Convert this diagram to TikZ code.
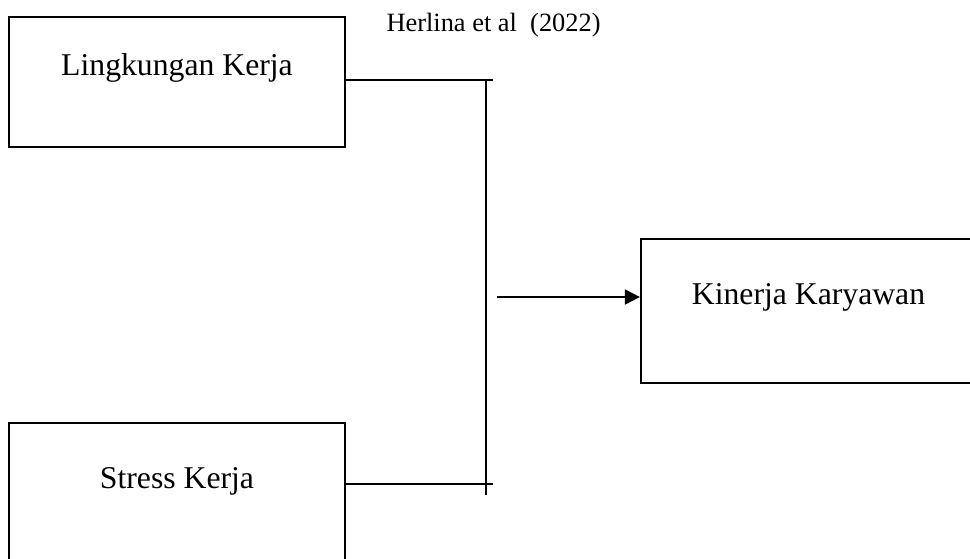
\documentclass[tikz,border=0pt]{standalone}
\usepackage{fontspec}
\setmainfont{Liberation Serif}
\usetikzlibrary{arrows.meta}

\begin{document}
\begin{tikzpicture}[x=1pt,y=-1pt,>={Triangle[length=15pt,width=15pt]},
  box/.style={draw,line width=2.2pt,inner sep=0pt},
  conn/.style={line width=1.3pt},
  every node/.style={font=\fontsize{31.7}{38}\selectfont}]
  \clip (0,0) rectangle (970,559);
  % boxes
  \node[box,minimum width=336,minimum height=130] (lk) at (177,82) {};
  \node[anchor=base] (lktext) at (177,76) {Lingkungan Kerja};
  \node[box,minimum width=336,minimum height=140] (sk) at (177,493) {};
  \node[anchor=base] (sktext) at (177,488) {Stress Kerja};
  \node[box,minimum width=359,minimum height=144] (kk) at (820.5,311) {};
  \node[anchor=base] (kktext) at (808.5,304) {Kinerja Karyawan};
  \node[anchor=base west,font=\fontsize{26.4}{32}\selectfont] (src) at (383,32) {Herlina et al~~(2022)};
  % connectors
  \coordinate (jtop) at (486,80);
  \coordinate (jbot) at (486,484);
  \coordinate (astart) at (497,297);
  \draw[conn] (lk.east |- jtop) -- ([xshift=7pt]jtop);
  \draw[conn] (sk.east |- jbot) -- ([xshift=7pt]jbot);
  \draw[conn] (jtop) -- ([yshift=-11pt]jbot);
  \draw[line width=2pt,->] (astart) -- (kk.west |- astart);
\end{tikzpicture}
\end{document}
